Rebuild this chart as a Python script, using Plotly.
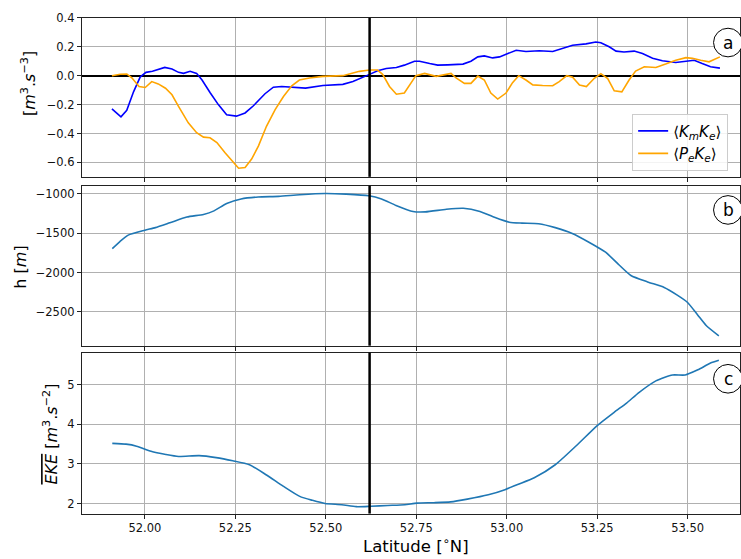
import plotly.graph_objects as go
from plotly.subplots import make_subplots

# ---------------- data ----------------
lat_km = [51.909, 51.934, 51.950, 51.969, 51.987, 52.003, 52.021, 52.055, 52.075, 52.093,
          52.107, 52.125, 52.143, 52.158, 52.180, 52.203, 52.226, 52.253, 52.277, 52.300,
          52.332, 52.355, 52.378, 52.415, 52.444, 52.492, 52.547, 52.575, 52.598, 52.621,
          52.643, 52.667, 52.695, 52.717, 52.745, 52.759, 52.787, 52.809, 52.837, 52.879,
          52.901, 52.920, 52.938, 52.961, 52.980, 53.003, 53.026, 53.053, 53.090, 53.127,
          53.154, 53.182, 53.219, 53.246, 53.260, 53.283, 53.302, 53.324, 53.352, 53.375,
          53.403, 53.430, 53.467, 53.495, 53.518, 53.540, 53.563, 53.589]
km_ke = [-0.230, -0.285, -0.240, -0.110, -0.010, 0.023, 0.030, 0.057, 0.046, 0.023,
         0.016, 0.030, 0.016, -0.030, -0.116, -0.200, -0.270, -0.280, -0.258, -0.208,
         -0.125, -0.080, -0.075, -0.084, -0.086, -0.068, -0.060, -0.041, -0.018, 0.009,
         0.034, 0.050, 0.057, 0.073, 0.100, 0.100, 0.084, 0.073, 0.075, 0.080,
         0.100, 0.130, 0.137, 0.123, 0.130, 0.155, 0.176, 0.167, 0.172, 0.167,
         0.187, 0.210, 0.220, 0.233, 0.228, 0.200, 0.170, 0.164, 0.170, 0.153,
         0.120, 0.103, 0.091, 0.100, 0.107, 0.084, 0.062, 0.052]

lat_pe = [51.909, 51.932, 51.950, 51.964, 51.984, 52.001, 52.019, 52.037, 52.057, 52.075,
          52.093, 52.120, 52.143, 52.162, 52.180, 52.199, 52.221, 52.240, 52.259, 52.277,
          52.295, 52.314, 52.336, 52.360, 52.383, 52.406, 52.427, 52.455, 52.492, 52.547,
          52.571, 52.593, 52.621, 52.643, 52.657, 52.676, 52.695, 52.717, 52.749, 52.773,
          52.805, 52.846, 52.860, 52.883, 52.901, 52.920, 52.938, 52.956, 52.975, 52.998,
          53.016, 53.033, 53.053, 53.072, 53.099, 53.127, 53.145, 53.166, 53.182, 53.201,
          53.220, 53.242, 53.260, 53.279, 53.297, 53.318, 53.338, 53.356, 53.380, 53.412,
          53.439, 53.467, 53.495, 53.513, 53.536, 53.559, 53.589]
pe_ke = [0.000, 0.010, 0.012, -0.015, -0.075, -0.082, -0.041, -0.057, -0.087, -0.132,
         -0.212, -0.326, -0.395, -0.425, -0.430, -0.463, -0.532, -0.585, -0.640, -0.635,
         -0.577, -0.486, -0.350, -0.235, -0.144, -0.070, -0.030, -0.016, -0.005, 0.000,
         0.016, 0.030, 0.039, 0.039, 0.009, -0.075, -0.128, -0.120, 0.000, 0.016,
         -0.005, 0.016, -0.016, -0.053, -0.053, -0.003, -0.030, -0.120, -0.162, -0.120,
         -0.048, 0.000, -0.030, -0.064, -0.068, -0.070, -0.041, 0.000, -0.010, -0.064,
         -0.075, -0.018, 0.014, -0.020, -0.105, -0.112, -0.030, 0.032, 0.062, 0.057,
         0.080, 0.107, 0.125, 0.120, 0.107, 0.096, 0.130]

lat_h = [51.910, 51.931, 51.954, 52.000, 52.029, 52.069, 52.116, 52.162, 52.191, 52.226,
         52.266, 52.313, 52.370, 52.428, 52.498, 52.556, 52.619, 52.654, 52.694, 52.741,
         52.775, 52.833, 52.880, 52.926, 52.966, 53.007, 53.042, 53.088, 53.134, 53.181,
         53.227, 53.273, 53.308, 53.343, 53.389, 53.435, 53.470, 53.499, 53.528, 53.551,
         53.586]
depth = [-1697, -1607, -1525, -1463, -1430, -1369, -1295, -1262, -1217, -1123,
         -1066, -1041, -1033, -1012, -996, -1004, -1025, -1066, -1148, -1225,
         -1230, -1197, -1184, -1225, -1299, -1361, -1373, -1381, -1430, -1504,
         -1615, -1742, -1893, -2037, -2119, -2189, -2283, -2377, -2541, -2672,
         -2803]

lat_eke = [51.910, 51.948, 51.977, 52.017, 52.058, 52.093, 52.150, 52.197, 52.243, 52.289,
           52.336, 52.382, 52.428, 52.463, 52.498, 52.544, 52.584, 52.625, 52.671, 52.718,
           52.752, 52.799, 52.845, 52.891, 52.949, 52.995, 53.030, 53.076, 53.134, 53.192,
           53.250, 53.296, 53.331, 53.366, 53.412, 53.458, 53.493, 53.528, 53.563, 53.586]
eke = [3.52, 3.50, 3.45, 3.32, 3.24, 3.19, 3.21, 3.16, 3.08, 2.98,
       2.72, 2.44, 2.18, 2.08, 2.00, 1.97, 1.92, 1.93, 1.95, 1.97,
       2.01, 2.02, 2.04, 2.11, 2.22, 2.35, 2.48, 2.65, 2.98, 3.46,
       3.97, 4.30, 4.54, 4.81, 5.10, 5.25, 5.25, 5.38, 5.55, 5.62]

marker_lat = 52.621
panel_labels = ["a", "b", "c"]

# ---------------- figure ----------------
W, H = 741, 559
FONT = "DejaVu Sans"

fig = make_subplots(rows=3, cols=1, shared_xaxes=True)

fig.add_trace(go.Scatter(x=lat_km, y=km_ke, mode="lines",
                         line=dict(color="blue", width=1.6),
                         name="⟨<i>K<sub>m</sub>K<sub>e</sub></i>⟩"), row=1, col=1)
fig.add_trace(go.Scatter(x=lat_pe, y=pe_ke, mode="lines",
                         line=dict(color="orange", width=1.6),
                         name="⟨<i>P<sub>e</sub>K<sub>e</sub></i>⟩"), row=1, col=1)
fig.add_trace(go.Scatter(x=lat_h, y=depth, mode="lines",
                         line=dict(color="#1f77b4", width=1.6, shape="spline", smoothing=0.6),
                         showlegend=False), row=2, col=1)
fig.add_trace(go.Scatter(x=lat_eke, y=eke, mode="lines",
                         line=dict(color="#1f77b4", width=1.6, shape="spline", smoothing=0.6),
                         showlegend=False), row=3, col=1)

def py(p):  # pixel row -> paper fraction
    return 1 - p / H

def px(p):
    return p / W

domains = [(py(172), py(11)), (py(343), py(181)), (py(513), py(350))]

axis_common = dict(showline=True, linecolor="#222", linewidth=1, mirror=True,
                   ticks="outside", ticklen=4, tickcolor="#222", tickwidth=1,
                   showgrid=True, gridcolor="#b0b0b0", gridwidth=1,
                   tickfont=dict(family=FONT, size=11.5, color="#111"))

xr = [51.826, 53.6445]
for i in range(1, 4):
    xa = "xaxis" if i == 1 else f"xaxis{i}"
    fig.layout[xa].update(domain=[px(82), 1], range=xr, dtick=0.25, tick0=52,
                          tickformat=".2f", showticklabels=(i == 3), zeroline=False,
                          **axis_common)

fig.layout.yaxis.update(domain=list(domains[0]), range=[-0.7, 0.4], dtick=0.2, tick0=0,
                        tickformat=".1f", zeroline=True, zerolinecolor="black",
                        zerolinewidth=1.5, **axis_common)
fig.layout.yaxis2.update(domain=list(domains[1]), range=[-2929, -898], dtick=500, tick0=0,
                         zeroline=False, **axis_common)
fig.layout.yaxis3.update(domain=list(domains[2]), range=[1.745, 5.815], dtick=1, tick0=0,
                         zeroline=False, **axis_common)

# vertical marker line across all panels
for xref, yref in [("x", "y domain"), ("x2", "y2 domain"), ("x3", "y3 domain")]:
    fig.add_shape(type="line", xref=xref, yref=yref, x0=marker_lat, x1=marker_lat,
                  y0=0, y1=1, line=dict(color="black", width=2.5))

# circled panel labels
centers = [(729, 36), (729, 205.5), (729, 376.5)]
r = 14.5
for lab, (cx, cy) in zip(panel_labels, centers):
    fig.add_shape(type="circle", xref="paper", yref="paper",
                  x0=px(cx - r), x1=px(cx + r), y0=py(cy + r), y1=py(cy - r),
                  line=dict(color="black", width=1), fillcolor="white")
    fig.add_annotation(x=px(cx), y=py(cy), xref="paper", yref="paper", text=lab,
                       showarrow=False, xanchor="center", yanchor="middle",
                       font=dict(family=FONT, size=17, color="black"))

# axis titles
fig.add_annotation(x=px(28), y=py(77), xref="paper", yref="paper", textangle=-90,
                   text="[<i>m</i><sup>3</sup>.<i>s</i><sup>−3</sup>]", showarrow=False,
                   xanchor="center", yanchor="middle",
                   font=dict(family=FONT, size=16, color="black"))
fig.add_annotation(x=px(21), y=py(263), xref="paper", yref="paper", textangle=-90,
                   text="h [<i>m</i>]", showarrow=False, xanchor="center", yanchor="middle",
                   font=dict(family=FONT, size=16, color="black"))
fig.add_annotation(x=px(51), y=py(432), xref="paper", yref="paper", textangle=-90,
                   text="<span style='text-decoration:overline'><i>EKE</i></span> [<i>m</i><sup>3</sup>.<i>s</i><sup>−2</sup>]",
                   showarrow=False, xanchor="center", yanchor="middle",
                   font=dict(family=FONT, size=16, color="black"))
fig.add_annotation(x=px(417), y=py(545), xref="paper", yref="paper",
                   text="Latitude [<sup>∘</sup>N]", showarrow=False,
                   xanchor="center", yanchor="middle",
                   font=dict(family=FONT, size=16.5, color="black"))

fig.update_layout(
    width=W, height=H, margin=dict(l=0, r=0, t=0, b=0),
    paper_bgcolor="white", plot_bgcolor="white",
    font=dict(family=FONT, color="black"),
    showlegend=True,
    legend=dict(x=px(633), y=py(108), xanchor="left", yanchor="top",
                bgcolor="rgba(255,255,255,0.85)", bordercolor="#cccccc", borderwidth=1,
                font=dict(family=FONT, size=15, color="black"), tracegroupgap=0),
)

fig.write_html("out.html", config={"displayModeBar": False},
               post_script="document.body.style.margin='0';document.body.style.overflow='hidden';")
